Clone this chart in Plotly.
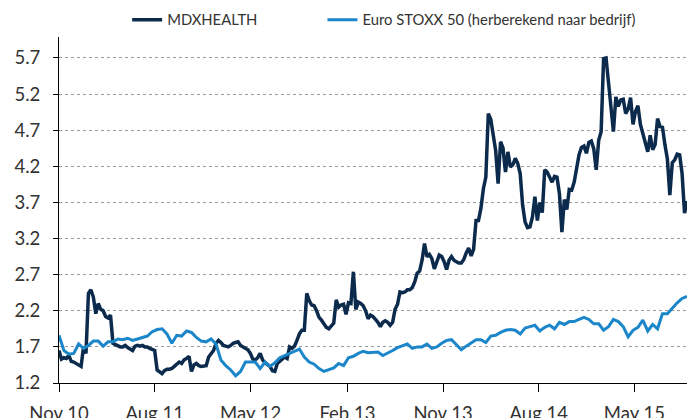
import pandas as pd
import plotly.graph_objects as go

# MDXHEALTH weekly values
mdx_values = [
    1.65, 1.53, 1.55, 1.54, 1.58, 1.50, 1.49, 1.47, 1.46, 1.43,
    1.70, 1.61, 2.44, 2.49, 2.39, 2.16, 2.30, 2.22, 2.20, 2.12,
    2.10, 2.14, 1.75, 1.73, 1.72, 1.70, 1.70, 1.72, 1.69, 1.67,
    1.65, 1.71, 1.72, 1.71, 1.72, 1.70, 1.70, 1.68, 1.67, 1.65,
    1.38, 1.35, 1.33, 1.37, 1.39, 1.39, 1.40, 1.43, 1.46, 1.49,
    1.47, 1.52, 1.54, 1.57, 1.36, 1.45, 1.47, 1.44, 1.43, 1.43,
    1.44, 1.56, 1.60, 1.65, 1.75, 1.79, 1.76, 1.72, 1.71, 1.70,
    1.72, 1.75, 1.76, 1.77, 1.72, 1.70, 1.68, 1.66, 1.61, 1.53,
    1.52, 1.55, 1.61, 1.52, 1.48, 1.46, 1.43, 1.37, 1.36, 1.47,
    1.50, 1.54, 1.56, 1.54, 1.70, 1.68, 1.71, 1.79, 1.88, 1.93,
    1.93, 2.44, 2.34, 2.28, 2.27, 2.20, 2.11, 2.07, 2.02, 1.97,
    1.95, 1.99, 2.03, 2.35, 2.25, 2.28, 2.29, 2.15, 2.31, 2.30,
    2.74, 2.22, 2.32, 2.30, 2.27, 2.20, 2.09, 2.14, 2.12, 2.08,
    2.04, 1.98, 2.04, 2.06, 2.04, 2.00, 2.04, 2.22, 2.29, 2.46,
    2.45, 2.46, 2.49, 2.49, 2.52, 2.60, 2.72, 2.75, 2.90, 3.13,
    2.95, 2.98, 2.92, 2.78, 2.88, 2.97, 2.95, 2.88, 2.77, 2.90,
    2.95, 2.90, 2.88, 2.86, 2.86, 2.91, 3.00, 3.07, 2.96, 3.05,
    3.45, 3.45, 3.62, 3.89, 4.05, 4.93, 4.85, 4.64, 4.42, 3.96,
    4.54, 4.45, 4.12, 4.40, 4.19, 4.22, 4.31, 4.24, 4.10, 3.66,
    3.43, 3.35, 3.36, 3.50, 3.78, 3.45, 3.70, 3.56, 4.15, 4.12,
    4.06, 3.98, 4.06, 4.05, 3.82, 3.29, 3.74, 3.60, 3.88, 3.87,
    3.98, 4.15, 4.36, 4.46, 4.48, 4.38, 4.53, 4.55, 4.44, 4.15,
    4.56, 4.68, 5.69, 5.70, 5.34, 5.04, 4.68, 5.16, 5.03, 5.12,
    5.13, 4.93, 4.99, 5.15, 4.78, 4.96, 5.04, 4.78, 4.65, 4.55,
    4.40, 4.63, 4.43, 4.50, 4.86, 4.75, 4.74, 4.50, 4.30, 3.80,
    4.25, 4.29, 4.37, 4.36, 4.10, 3.55, 3.72,
]

# Euro STOXX 50 (rebased) fortnightly values
stoxx_values = [
    1.86, 1.65, 1.60, 1.61, 1.74, 1.68, 1.72, 1.78, 1.78, 1.71,
    1.77, 1.77, 1.81, 1.80, 1.82, 1.79, 1.81, 1.83, 1.85, 1.91,
    1.94, 1.95, 1.88, 1.75, 1.86, 1.85, 1.92, 1.90, 1.83, 1.78,
    1.77, 1.81, 1.74, 1.52, 1.44, 1.38, 1.30, 1.36, 1.49, 1.49,
    1.49, 1.40, 1.49, 1.43, 1.48, 1.55, 1.58, 1.61, 1.63, 1.67,
    1.56, 1.49, 1.46, 1.40, 1.36, 1.38, 1.41, 1.47, 1.44, 1.55,
    1.57, 1.61, 1.64, 1.62, 1.63, 1.63, 1.58, 1.61, 1.65, 1.69,
    1.72, 1.74, 1.68, 1.70, 1.70, 1.74, 1.68, 1.70, 1.75, 1.79,
    1.80, 1.73, 1.66, 1.71, 1.76, 1.80, 1.80, 1.76, 1.85, 1.86,
    1.90, 1.93, 1.94, 1.93, 1.88, 1.96, 1.98, 2.00, 1.92, 1.97,
    2.00, 1.95, 2.04, 2.01, 2.05, 2.05, 2.08, 2.11, 2.08, 2.02,
    2.02, 1.93, 1.98, 2.08, 2.05, 1.98, 1.84, 1.93, 1.97, 2.07,
    1.92, 2.01, 1.95, 2.16, 2.16, 2.24, 2.31, 2.37, 2.40,
]

start_date = "2010-11-01"
mdx_dates = pd.date_range(start_date, periods=len(mdx_values), freq="7D")
stoxx_dates = pd.date_range(start_date, periods=len(stoxx_values), freq="14D")

x_tick_dates = ["2010-11-01", "2011-08-01", "2012-05-01", "2013-02-01",
                "2013-11-01", "2014-08-01", "2015-05-01"]
x_tick_labels = ["Nov 10", "Aug 11", "May 12", "Feb 13", "Nov 13", "Aug 14", "May 15"]
y_tick_vals = [1.2, 1.7, 2.2, 2.7, 3.2, 3.7, 4.2, 4.7, 5.2, 5.7]
y_tick_labels = [f"{v:.1f}" for v in y_tick_vals]

series_names = ["MDXHEALTH", "Euro STOXX 50 (herberekend naar bedrijf)"]
dark = "#0B2A4C"
light = "#1B86C9"
FONT = "Lato, sans-serif"
TXT = "#333333"

fig = go.Figure()
fig.add_trace(go.Scatter(x=mdx_dates, y=mdx_values, mode="lines", name=series_names[0],
                         line=dict(color=dark, width=3.5), legend="legend"))
fig.add_trace(go.Scatter(x=stoxx_dates, y=stoxx_values, mode="lines", name=series_names[1],
                         line=dict(color=light, width=3), legend="legend2"))

leg_common = dict(orientation="h", xanchor="left", yanchor="middle", y=1.049,
                  font=dict(family=FONT, size=14.8, color=TXT), bgcolor="rgba(0,0,0,0)")

fig.update_layout(
    width=687, height=418,
    margin=dict(l=58.5, r=0, t=37, b=35.3, pad=0, autoexpand=False),
    paper_bgcolor="white", plot_bgcolor="white",
    font=dict(family=FONT, size=15, color=TXT),
    showlegend=True,
    legend=dict(x=0.1085, **leg_common),
    legend2=dict(x=0.4195, **leg_common),
)
fig.update_xaxes(type="date", range=["2010-11-01", "2015-09-28"],
                 tickvals=x_tick_dates, ticktext=x_tick_labels,
                 showline=True, linecolor="#000000", linewidth=1,
                 ticks="outside", ticklen=8, tickcolor="#000000",
                 ticklabelstandoff=6, automargin=False,
                 showgrid=False, zeroline=False,
                 tickfont=dict(family=FONT, size=18.5, color=TXT))
fig.update_yaxes(range=[1.2, 5.99], tickvals=y_tick_vals, ticktext=y_tick_labels,
                 showline=True, linecolor="#000000", linewidth=1,
                 ticks="outside", ticklen=5, tickcolor="#000000",
                 ticklabelstandoff=9, automargin=False,
                 showgrid=True, gridcolor="#9a9a9a", griddash="dot", gridwidth=1,
                 zeroline=False, tickfont=dict(family=FONT, size=18.5, color=TXT))

fig.write_html("out.html",
               config={"displayModeBar": False},
               post_script="document.body.style.margin='0px';document.body.style.overflow='hidden';")
